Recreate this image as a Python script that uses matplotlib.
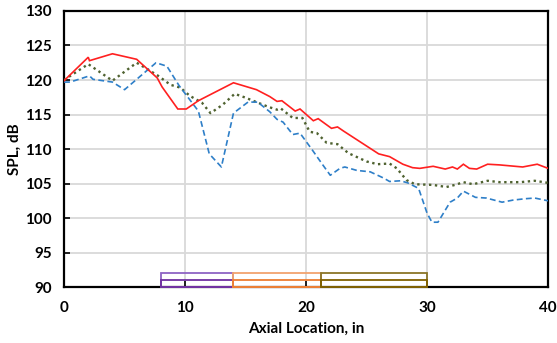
import matplotlib
matplotlib.use("Agg")
import matplotlib.pyplot as plt
from matplotlib.patches import Rectangle

# ---- data ----
red_x = [0, 2.0, 2.1, 4.0, 6.0, 7.7, 8.1, 9.4, 10.1, 11.1, 14.0, 15.9, 17.0, 17.6, 18.0,
         19.1, 19.5, 20.6, 21.0, 22.1, 22.6, 23.1, 26.0, 26.9, 28.0, 28.8, 29.4, 30.5,
         31.5, 32.1, 32.5, 33.0, 33.5, 34.1, 35.0, 36.0, 37.9, 39.1, 40.0]
red_y = [119.9, 123.3, 122.8, 123.8, 123.0, 120.3, 119.0, 115.8, 115.8, 117.0, 119.6, 118.6,
         117.6, 116.9, 117.0, 115.5, 115.8, 114.1, 114.4, 113.0, 113.2, 112.6, 109.3, 108.9,
         107.8, 107.3, 107.2, 107.5, 107.1, 107.4, 107.1, 107.8, 107.2, 107.1, 107.8, 107.7,
         107.4, 107.8, 107.2]

blue_x = [0, 0.5, 2.1, 2.4, 4.0, 5.0, 7.6, 8.5, 9.5, 11.1, 12.0, 13.0, 14.0, 15.2, 16.0,
          17.0, 17.6, 18.1, 18.9, 19.5, 20.5, 21.3, 22.0, 22.8, 23.2, 24.2, 25.3, 26.4,
          26.9, 27.8, 28.4, 29.3, 30.0, 30.4, 30.9, 31.9, 32.5, 33.0, 34.0, 34.9, 36.2,
          37.1, 38.1, 38.9, 40.0]
blue_y = [119.7, 119.7, 120.6, 120.1, 119.7, 118.6, 122.5, 122.0, 119.2, 115.5, 109.3, 107.4,
          115.2, 116.8, 116.8, 115.4, 114.3, 113.9, 112.1, 112.3, 109.9, 107.9, 106.2, 107.2,
          107.4, 106.9, 106.7, 105.8, 105.3, 105.4, 105.1, 104.3, 100.7, 99.4, 99.4, 102.3,
          102.9, 103.9, 103.0, 102.9, 102.3, 102.6, 102.8, 102.9, 102.5]

green_x = [0, 2.0, 4.0, 6.0, 7.7, 8.8, 9.6, 10.4, 11.4, 12.1, 13.1, 14.1, 14.9, 15.9, 16.9,
           17.6, 17.9, 18.9, 19.7, 20.3, 20.9, 21.7, 22.6, 23.5, 25.0, 25.9, 26.9, 27.5,
           28.3, 29.0, 30.5, 31.6, 32.3, 33.0, 33.8, 35.0, 36.0, 37.7, 38.9, 40.0]
green_y = [120.0, 122.3, 119.9, 122.5, 120.7, 119.3, 118.9, 117.7, 116.7, 115.2, 116.4, 118.0,
           117.5, 116.8, 116.1, 115.7, 115.9, 114.5, 114.5, 112.5, 112.3, 110.9, 110.7, 109.4,
           108.2, 107.8, 107.9, 107.2, 105.5, 104.9, 104.8, 104.5, 104.8, 105.2, 104.9, 105.4,
           105.2, 105.2, 105.4, 105.1]

box_starts = [8.0, 14.0, 21.2]
box_ends = [14.0, 21.2, 30.0]
box_outer_colors = ["#8e63c4", "#f2a36e", "#8a7528"]
box_inner_colors = ["#7030a0", "#ed7d31", "#7f6000"]

xticks = [0, 10, 20, 30, 40]
yticks = [90, 95, 100, 105, 110, 115, 120, 125, 130]

# ---- figure ----
plt.rcParams['font.family'] = ['Lato', 'DejaVu Sans']
fig = plt.figure(figsize=(5.57, 3.43), dpi=100)
ax = fig.add_axes([0.115, 0.163, 0.869, 0.805])

ax.plot(red_x, red_y, color="#ff2020", lw=1.2, solid_joinstyle='miter', zorder=4)
ax.plot(green_x, green_y, color="#4f6230", lw=1.7, linestyle=(0, (1, 1.5)), dash_capstyle='butt', zorder=3)
ax.plot(blue_x, blue_y, color="#2e7fc8", lw=1.2, linestyle=(0, (3.5, 2)), zorder=3)

for s, e, co, ci in zip(box_starts, box_ends, box_outer_colors, box_inner_colors):
    ax.add_patch(Rectangle((s, 90), e - s, 2, fill=False, edgecolor=co, lw=1.3, zorder=5, clip_on=False))
    ax.add_patch(Rectangle((s, 90), e - s, 1, fill=False, edgecolor=ci, lw=1.3, zorder=5, clip_on=False))

ax.set_xlim(0, 40)
ax.set_ylim(90, 130)
ax.set_xticks(xticks)
ax.set_yticks(yticks)
ax.grid(True, color="#d9d9d9", lw=1.3)
ax.set_axisbelow(True)
for sp in ax.spines.values():
    sp.set_color("black")
    sp.set_linewidth(1.6)
ax.tick_params(direction='in', length=4, width=1.2, labelsize=11)
ax.tick_params(axis='x', pad=10)
ax.tick_params(axis='y', pad=9)
for lab in ax.get_xticklabels() + ax.get_yticklabels():
    lab.set_fontweight('bold')
ax.set_xlabel("Axial Location, in", fontsize=11, fontweight='bold', labelpad=5)
ax.set_ylabel("SPL, dB", fontsize=11, fontweight='bold', labelpad=2)

fig.savefig("out.png", dpi=100)
